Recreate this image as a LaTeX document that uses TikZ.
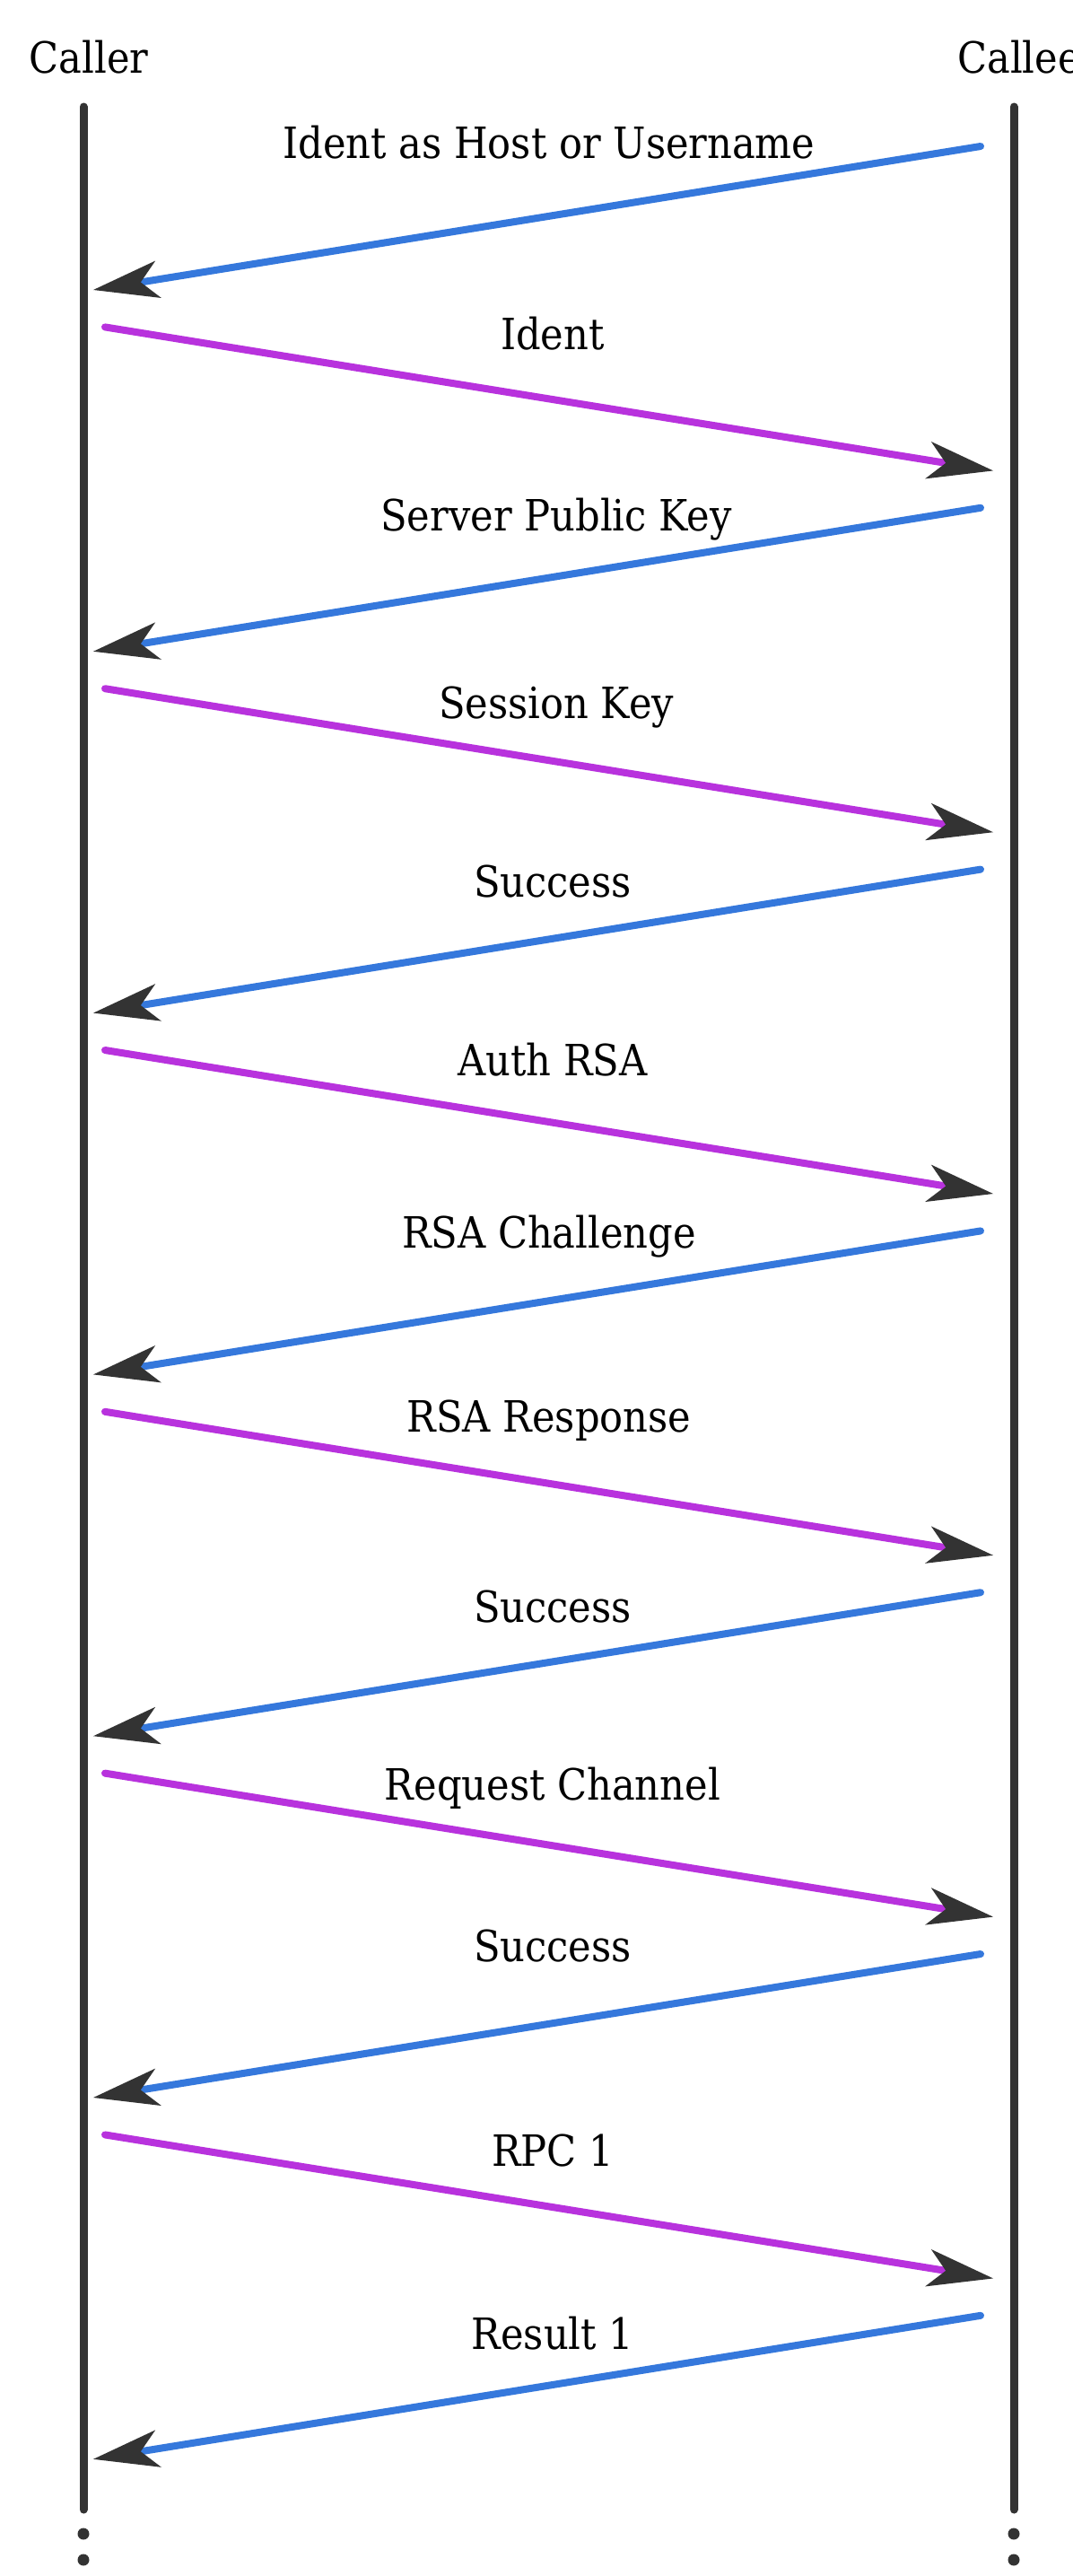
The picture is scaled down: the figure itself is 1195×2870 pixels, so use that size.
\documentclass[tikz,border=0pt]{standalone}
\usepackage{fontspec}
\setmainfont{DejaVu Serif}[FakeStretch=0.9]
\usetikzlibrary{arrows.meta}
\definecolor{lifegray}{HTML}{333333}
\definecolor{replyblue}{HTML}{3578DC}
\definecolor{callpurple}{HTML}{B832DD}
\begin{document}
\begin{tikzpicture}[x=1pt,y=-1pt,
  lifeline/.style={line width=9pt, draw=lifegray, line cap=round},
  lifedot/.style={circle, fill=lifegray, inner sep=0pt, minimum size=13pt},
  msg/.style={line width=8pt, line cap=round,
    -{Stealth[length=73.5pt,width=42pt,inset=20pt,line width=0pt,color=lifegray]}},
  reply/.style={msg, draw=replyblue},
  call/.style={msg, draw=callpurple},
  lbl/.style={anchor=base, inner sep=0pt, font=\fontsize{48}{58}\selectfont}]
\useasboundingbox (0,0) rectangle (1195,2870);
\fill[white] (0,0) rectangle (1195,2870);
\clip (0,0) rectangle (1195,2870);

% participants
\node[lbl] (caller) at (99,81) {Caller};
\node[lbl] (callee) at (1136,81) {Callee};

% lifelines with continuation dots
\coordinate (callerTop) at (93,119);
\coordinate (callerBot) at (93,2796);
\coordinate (calleeTop) at (1130,119);
\coordinate (calleeBot) at (1130,2796);
\draw[lifeline] (callerTop) -- (callerBot);
\draw[lifeline] (calleeTop) -- (calleeBot);
\node[lifedot] (callerDotA) at (93,2823) {};
\node[lifedot] (callerDotB) at (93,2852) {};
\node[lifedot] (calleeDotA) at (1130,2823) {};
\node[lifedot] (calleeDotB) at (1130,2852) {};

% messages: even steps go Callee -> Caller, odd steps Caller -> Callee
\foreach \i/\txt/\lx/\ly in {
  0/Ident as Host or Username/612/176,
  1/Ident/616/389,
  2/Server Public Key/620/591,
  3/Session Key/620/800,
  4/Success/616/999,
  5/Auth RSA/616/1198,
  6/RSA Challenge/612/1390,
  7/RSA Response/612/1595,
  8/Success/616/1807,
  9/Request Channel/616/2005,
  10/Success/616/2185,
  11/RPC 1/616/2413,
  12/Result 1/616/2617}{
  \pgfmathsetmacro\sy{163+201.4*\i}
  \pgfmathsetmacro\ey{\sy+160}
  \ifodd\i
    \coordinate (m\i s) at (117,\sy);
    \coordinate (m\i e) at (1107,\ey);
    \draw[call] (m\i s) -- (m\i e);
  \else
    \coordinate (m\i s) at (1093,\sy);
    \coordinate (m\i e) at (104,\ey);
    \draw[reply] (m\i s) -- (m\i e);
  \fi
  \node[lbl] (l\i) at (\lx,\ly) {\txt};
}
\end{tikzpicture}
\end{document}
